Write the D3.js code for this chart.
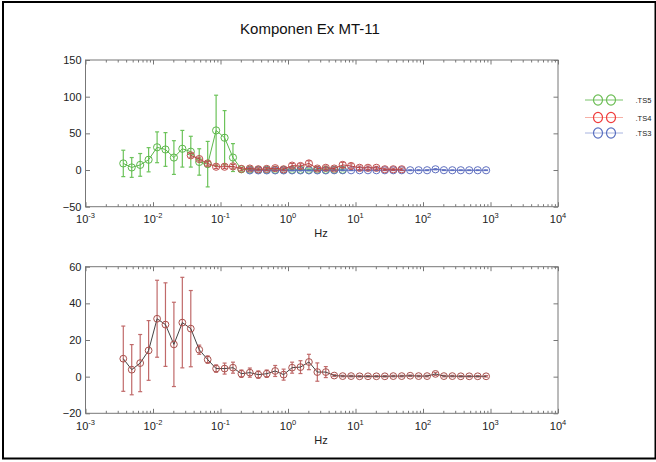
<!DOCTYPE html>
<html>
<head>
<meta charset="utf-8">
<script src="https://cdn.jsdelivr.net/npm/d3@7/dist/d3.min.js"></script>
<style>
  body { margin: 0; background: #fff; }
  svg { display: block; font-family: "Liberation Sans", Arial, sans-serif; }
</style>
</head>
<body>
<svg id="chart" width="656" height="462"></svg>
<script>
// ---------------- DATA ----------------
const title = "Komponen Ex MT-11";
const xLabel = "Hz";
const freqs = [0.00363,0.00484,0.00646,0.00861,0.0115,0.0153,0.0204,0.0272,0.0363,0.0484,
  0.0646,0.0861,0.115,0.153,0.204,0.272,0.363,0.484,0.646,0.861,
  1.15,1.53,2.04,2.72,3.63,4.84,6.46,8.61,11.5,15.3,
  20.4,27.2,36.3,48.4,64.6,86.1,115,153,204,272,
  363,484,646,861];

// top panel: TS5 (green) indices 0..26
const ts5Values = [9,3.5,7,14,31,28,17,29,25,11,8,54,44,17,1,0.5,0.3,0.3,0.3,0.3,0.3,0.3,0.3,0.3,0.3,0.3,0.3];
const ts5Errors = [18,13.5,15.5,16.5,21,23,23,25,21,18,31,48,37,19,2.5,1.5,1.2,1.2,1.2,1.2,1.2,1.2,1.2,1.2,1.2,1.2,1.2];
// TS4 (red) indices 8..33
const ts4Start = 8;
const ts4Values = [20,15,9,4.5,4.5,5,1.5,2,1,1.5,2.5,1,6,5.5,9,2,3,2,7,5.5,3,3,3,1,1,1];
const ts4Errors = [2.5,2.5,2.5,2.5,2.5,2.5,2,2,2,2,2.5,2,3,3,3.5,2.5,2.5,2,3.5,3,2.5,2.5,2,1.5,1.5,1.5];
// TS3 (blue) indices 15..43
const ts3Start = 15;
const ts3Values = [-0.5,-0.5,-0.5,-0.5,-0.5,-0.5,-0.5,-0.5,-0.5,-0.5,-0.3,-0.3,-0.3,-0.3,-0.3,-0.3,-0.3,-0.3,-0.3,-0.3,-0.3,-0.3,1,-0.2,-0.3,-0.3,-0.3,-0.3,-0.3];
const ts3Errors = [0.6,0.6,0.6,0.6,0.6,0.6,0.6,0.6,0.6,0.6,0.6,0.6,0.6,0.6,0.6,0.6,0.6,0.6,0.6,0.6,0.6,0.6,0.8,0.6,0.5,0.5,0.5,0.5,0.5];

// bottom panel: combined
const avgValues = [9.8,3.8,7.4,14.3,31.6,28.4,17.6,29.5,26.2,14.7,9.3,4.4,4.4,4.9,1.6,2.2,1.1,1.6,3.1,1.1,
  4.9,5.2,8.0,2.5,2.5,0.6,0.3,0.3,0.2,0.2,0.2,0.2,0.3,0.3,0.5,0.3,0.3,1.5,0.3,0.3,0.2,0.2,0.2,0.2];
const avgErrors = [17.8,13.7,15.6,16.3,21,22.8,23,24.7,20.8,2.5,2,2,3,3,2,2.5,2,2,3,3,
  3,3.5,4.2,5,3,0.5,0.4,0.4,0.4,0.4,0.4,0.4,0.4,0.4,0.4,0.4,0.4,0.8,0.4,0.4,0.4,0.4,0.4,0.4];

const xMajor = [1e-3,1e-2,1e-1,1e0,1e1,1e2,1e3,1e4];
const xExponents = ["-3","-2","-1","0","1","2","3","4"];
const topYTicks = [-50,0,50,100,150];
const botYTicks = [-20,0,20,40,60];
const legendNames = [".TS5", ".TS4", ".TS3"];

// ---------------- LAYOUT ----------------
const svg = d3.select("#chart");
const X0 = 85.5, X1 = 558;
const x = d3.scaleLog().domain([1e-3, 1e4]).range([X0, X1]);
const yTop = d3.scaleLinear().domain([-50, 150]).range([206.7, 60]);
const yBot = d3.scaleLinear().domain([-20, 60]).range([413.3, 266.7]);

const frameColor = "#777";
const textColor = "#222";

// outer border
svg.append("rect").attr("x", 3).attr("y", 2).attr("width", 652.5).attr("height", 456.5)
  .attr("fill", "none").attr("stroke", "#000").attr("stroke-width", 2);

svg.append("text").attr("x", 310).attr("y", 34).attr("text-anchor", "middle")
  .attr("font-size", 15).attr("fill", "#111").text(title);

const minorTicks = x.ticks().filter(v => !xMajor.some(m => Math.abs(m - v) / m < 1e-6));

function drawFrame(y, yTicks) {
  const [yb, yt] = y.range();
  const g = svg.append("g");
  g.append("g").attr("transform", `translate(0,${yb})`)
    .call(d3.axisBottom(x).tickValues(xMajor).tickSize(-4.5).tickSizeOuter(0).tickFormat(""));
  g.append("g").attr("transform", `translate(0,${yb})`)
    .call(d3.axisBottom(x).tickValues(minorTicks).tickSize(-2.5).tickSizeOuter(0).tickFormat(""));
  g.append("g").attr("transform", `translate(0,${yt})`)
    .call(d3.axisTop(x).tickValues(xMajor).tickSize(-4.5).tickSizeOuter(0).tickFormat(""));
  g.append("g").attr("transform", `translate(0,${yt})`)
    .call(d3.axisTop(x).tickValues(minorTicks).tickSize(-2.5).tickSizeOuter(0).tickFormat(""));
  g.append("g").attr("transform", `translate(${X0},0)`)
    .call(d3.axisLeft(y).tickValues(yTicks).tickSize(-4.5).tickSizeOuter(0).tickPadding(4))
    .selectAll("text").attr("font-size", 11).attr("fill", textColor)
    .attr("font-family", "Liberation Sans, Arial, sans-serif");
  g.append("g").attr("transform", `translate(${X1},0)`)
    .call(d3.axisRight(y).tickValues(yTicks).tickSize(-4.5).tickSizeOuter(0).tickFormat(""));
  g.selectAll(".domain").remove();
  g.selectAll(".tick line").attr("stroke", frameColor);
  g.append("rect").attr("x", X0).attr("y", yt).attr("width", X1 - X0).attr("height", yb - yt)
    .attr("fill", "none").attr("stroke", frameColor).attr("stroke-width", 1);
  xMajor.forEach((v, i) => {
    const t = g.append("text").attr("x", x(v)).attr("y", yb + 16.5).attr("text-anchor", "middle")
      .attr("fill", textColor).attr("font-size", 11);
    t.append("tspan").text("10");
    t.append("tspan").attr("dy", -5).attr("font-size", 7.5).text(xExponents[i]);
  });
  g.append("text").attr("x", 321).attr("y", yb + 30.5).attr("text-anchor", "middle")
    .attr("font-size", 11).attr("fill", textColor).text(xLabel);
}

drawFrame(yTop, topYTicks);
drawFrame(yBot, botYTicks);

function drawSeries(y, start, vals, errs, opt) {
  const pts = vals.map((v, i) => ({ f: freqs[start + i], v, e: errs[i] }));
  const g = svg.append("g");
  const cap = 2;
  g.selectAll("g.eb").data(pts).enter().append("g").each(function (d) {
    const s = d3.select(this);
    const xx = x(d.f), y1 = y(d.v + d.e), y2 = y(d.v - d.e);
    s.append("line").attr("x1", xx).attr("x2", xx).attr("y1", y1).attr("y2", y2)
      .attr("stroke", opt.err).attr("stroke-width", opt.ew);
    s.append("line").attr("x1", xx - cap).attr("x2", xx + cap).attr("y1", y1).attr("y2", y1)
      .attr("stroke", opt.err).attr("stroke-width", opt.ew);
    s.append("line").attr("x1", xx - cap).attr("x2", xx + cap).attr("y1", y2).attr("y2", y2)
      .attr("stroke", opt.err).attr("stroke-width", opt.ew);
  });
  g.append("path").datum(pts)
    .attr("d", d3.line().x(d => x(d.f)).y(d => y(d.v)))
    .attr("fill", "none").attr("stroke", opt.line).attr("stroke-width", opt.lw);
  g.selectAll("circle").data(pts).enter().append("circle")
    .attr("cx", d => x(d.f)).attr("cy", d => y(d.v)).attr("r", opt.r)
    .attr("fill", "none").attr("stroke", opt.mark).attr("stroke-width", 1);
}

drawSeries(yTop, 0, ts5Values, ts5Errors, { err: "#6cc35a", ew: 1.2, line: "#5cb84a", lw: 1, mark: "#5cb84a", r: 3.6 });
drawSeries(yTop, ts3Start, ts3Values, ts3Errors, { err: "#5a6cc0", ew: 1, line: "#5a6cc0", lw: 1, mark: "#6070c0", r: 3.6 });
drawSeries(yTop, ts4Start, ts4Values, ts4Errors, { err: "#c05050", ew: 1, line: "#b84040", lw: 1, mark: "#c05050", r: 3.6 });
drawSeries(yBot, 0, avgValues, avgErrors, { err: "#c06a6a", ew: 1.2, line: "#444", lw: 1, mark: "#a8504c", r: 3.4 });

// legend
const legColors = [
  { line: "#7ac36a", mark: "#6cbd55" },
  { line: "#f6b0a6", mark: "#f03c3c" },
  { line: "#a8b4e0", mark: "#5a70c0" }
];
const legY = [100, 117.5, 133];
legendNames.forEach((name, i) => {
  const g = svg.append("g");
  g.append("line").attr("x1", 585).attr("x2", 623).attr("y1", legY[i]).attr("y2", legY[i])
    .attr("stroke", legColors[i].line).attr("stroke-width", 1);
  [598, 611].forEach(cx => g.append("ellipse").attr("cx", cx).attr("cy", legY[i])
    .attr("rx", 4.5).attr("ry", 5.2).attr("fill", "none").attr("stroke", legColors[i].mark).attr("stroke-width", 1.2));
  g.append("text").attr("x", 635.5).attr("y", legY[i] + 3).attr("font-size", 7.5)
    .attr("fill", textColor).text(name);
});
</script>
</body>
</html>
